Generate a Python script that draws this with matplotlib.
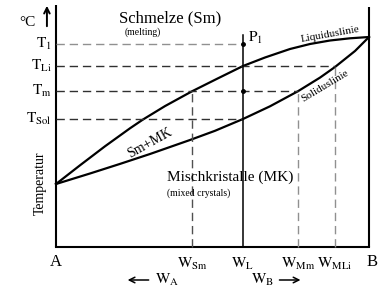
import matplotlib
matplotlib.use("Agg")
import matplotlib.pyplot as plt

plt.rcParams['font.family'] = ['Liberation Serif', 'DejaVu Serif']
plt.rcParams['mathtext.fontset'] = 'stix'

# ---- data (composition % B, temperature in arbitrary units) ----
liq_x = [0, 7.67, 15.65, 23.64, 27.8, 34.82, 43.45, 51.44, 59.74, 66.77, 74.76, 81.15, 87.54, 93.93, 100]
liq_t = [63, 81.7, 100.7, 118.7, 127.5, 140.9, 155.7, 168.2, 181, 189.5, 198, 203, 206.5, 208.7, 210]
sol_x = [0, 10.86, 20.45, 30.03, 42.81, 50.80, 59.74, 68.37, 77.32, 84.35, 89.14, 95.53, 100]
sol_t = [63, 73.5, 83.1, 93, 107, 116.2, 128, 140.7, 155.8, 169.4, 180, 196, 210]

temp_labels = [r'$\mathrm{T_1}$', r'$\mathrm{T_{Li}}$', r'$\mathrm{T_m}$', r'$\mathrm{T_{Sol}}$']
temp_values = [203, 181, 156, 128]
temp_line_end = [59.7, 89.1, 77.3, 59.7]

comp_labels = [r'$\mathrm{W_{Sm}}$', r'$\mathrm{W_L}$', r'$\mathrm{W_{Mm}}$', r'$\mathrm{W_{MLi}}$']
comp_values = [43.5, 59.7, 77.3, 89.1]
comp_line_top = [156, 212, 156, 181]

fig = plt.figure(figsize=(3.85, 2.91), dpi=100)
ax = fig.add_axes([0, 0, 1, 1])
ax.set_xlim(-17.89, 105.11)
ax.set_ylim(-44, 247)
ax.axis('off')

# frame
ax.plot([0, 0], [0, 242], color='black', lw=1.5, solid_capstyle='butt')
ax.plot([0, 100], [0, 0], color='black', lw=1.5, solid_capstyle='projecting')
ax.plot([100, 100], [0, 240], color='black', lw=1.5, solid_capstyle='butt')

# liquidus / solidus
ax.plot(liq_x, liq_t, color='black', lw=1.6, solid_joinstyle='round')
ax.plot(sol_x, sol_t, color='black', lw=1.6, solid_joinstyle='round')

# horizontal dashed temperature lines
hcolors = ['#909090', '#303030', '#303030', '#303030']
for lab, tv, xe, c in zip(temp_labels, temp_values, temp_line_end, hcolors):
    ax.plot([0, xe], [tv, tv], color=c, lw=1.0, dashes=(6, 3.5))
    ax.text(-1.3, tv, lab, ha='right', va='center', fontsize=11)

# vertical lines
vstyles = [('#505050', (6, 3.5)), (None, None), ('#909090', (6, 3.5)), ('#909090', (6, 3.5))]
for lab, cv, top, (c, d) in zip(comp_labels, comp_values, comp_line_top, vstyles):
    if c is None:
        ax.plot([cv, cv], [0, top], color='black', lw=1.1)
    else:
        ax.plot([cv, cv], [0, top], color=c, lw=1.0, dashes=d)
    ax.text(cv, -9, lab, ha='center', va='top', fontsize=11)

# point P1 and intersection
ax.plot([comp_values[1], comp_values[1]], [temp_values[0], temp_values[2]], 'o',
        color='black', ms=2.5)
ax.text(61.2, 209, r'$\mathrm{P_1}$', ha='left', va='center', fontsize=11)

# axis end labels
ax.text(0, -7, 'A', ha='center', va='top', fontsize=12)
ax.text(101, -7, 'B', ha='center', va='top', fontsize=12)
ax.text(-6.5, 224, '°C', ha='right', va='center', fontsize=11)
ax.annotate('', xy=(-2.9, 244), xytext=(-2.9, 218),
            arrowprops=dict(arrowstyle='->', color='black', lw=1.4))
ax.text(-5.1, 64, 'Temperatur', rotation=90, ha='center', va='center', fontsize=10)

# composition arrows
ax.annotate('', xy=(22, -33), xytext=(30.5, -33),
            arrowprops=dict(arrowstyle='->', color='black', lw=1.1))
ax.text(31.5, -33, r'$\mathrm{W_A}$', ha='left', va='center', fontsize=11)
ax.annotate('', xy=(79, -33), xytext=(70.5, -33),
            arrowprops=dict(arrowstyle='->', color='black', lw=1.1))
ax.text(69.5, -33, r'$\mathrm{W_B}$', ha='right', va='center', fontsize=11)

# region labels
ax.text(36.5, 229, 'Schmelze (Sm)', ha='center', va='center', fontsize=12)
ax.text(22, 215, '(melting)', ha='left', va='center', fontsize=7)
ax.text(30, 104, 'Sm+MK', ha='center', va='center', fontsize=10, rotation=29)
ax.text(35.5, 70, 'Mischkristalle (MK)', ha='left', va='center', fontsize=11)
ax.text(35.5, 54, '(mixed crystals)', ha='left', va='center', fontsize=7)
ax.text(87.5, 212.5, 'Liquiduslinie', ha='center', va='center', fontsize=8, rotation=10)
ax.text(86, 161, 'Soliduslinie', ha='center', va='center', fontsize=8, rotation=31)

fig.savefig('out.png', dpi=100)
